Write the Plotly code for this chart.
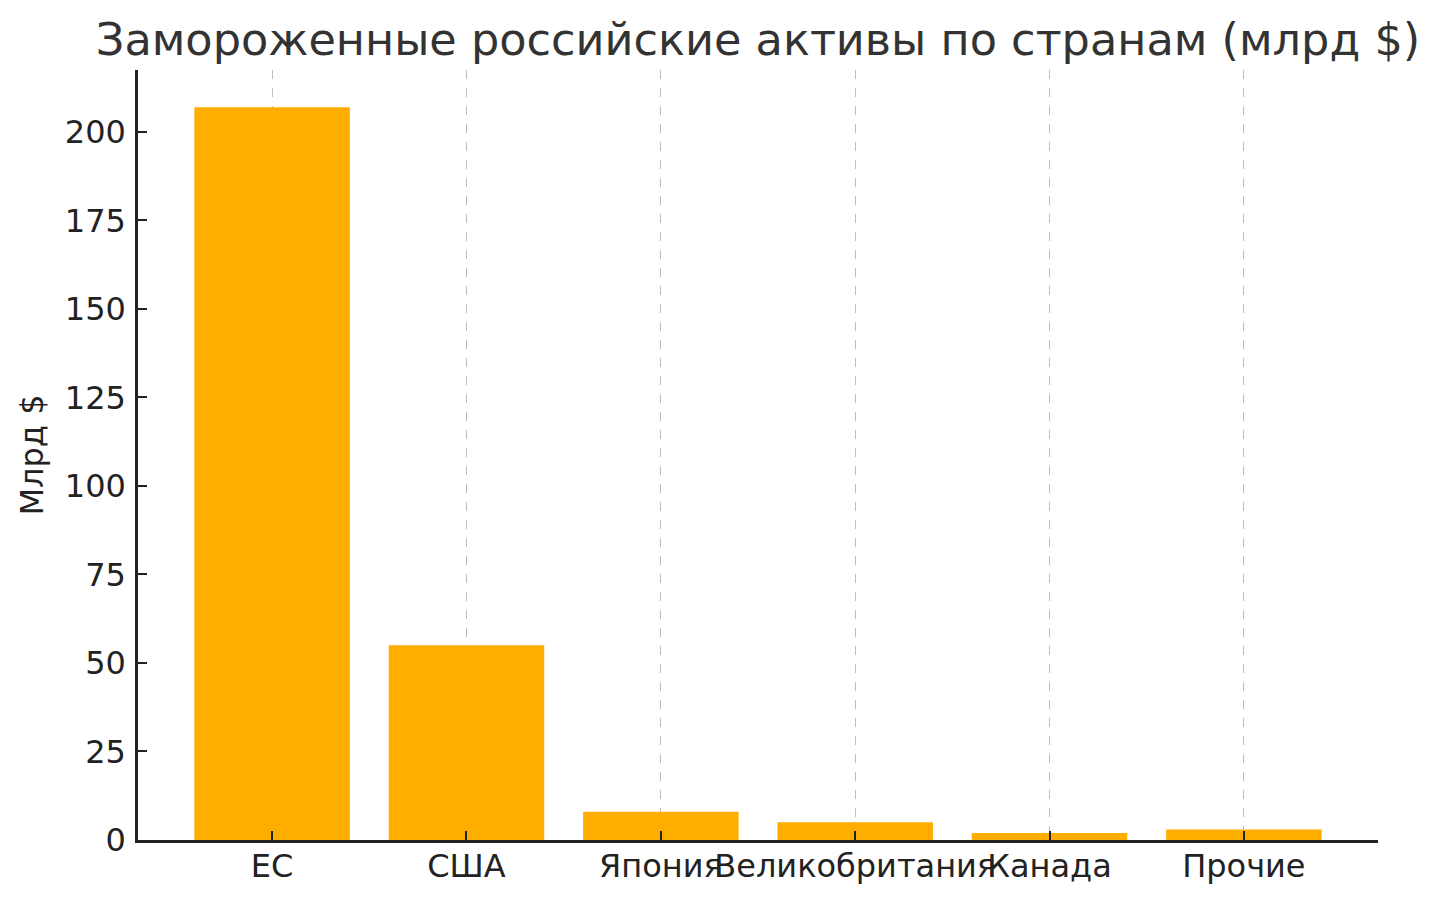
import plotly.graph_objects as go

categories = ["ЕС", "США", "Япония", "Великобритания", "Канада", "Прочие"]
values = [207, 55, 8, 5, 2, 3]
y_ticks = [0, 25, 50, 75, 100, 125, 150, 175, 200]

fig = go.Figure()
fig.add_trace(go.Bar(x=list(range(len(categories))), y=values, width=0.8,
                     marker=dict(color="#FFAE00", line=dict(width=0))))

font = "DejaVu Sans"
fig.update_layout(
    width=1437, height=904,
    margin=dict(l=130, r=67, t=62, b=72, autoexpand=False),
    paper_bgcolor="white", plot_bgcolor="white",
    showlegend=False,
    title=dict(text="Замороженные российские активы по странам (млрд $)",
               xref="paper", x=0.5, xanchor="center", yref="container", y=0.965, yanchor="middle",
               font=dict(family=font, size=44.6, color="#333333")),
    font=dict(family=font, size=32, color="#222222"),
)
fig.update_xaxes(
    range=[-0.69, 5.69], tickmode="array", tickvals=list(range(len(categories))),
    ticktext=categories, tickangle=0, automargin=False, ticklabelstandoff=-4,
    showgrid=True, gridcolor="#BFBFBF", griddash="dash", gridwidth=1.2,
    ticks="inside", ticklen=9, tickwidth=1.5, tickcolor="#222222",
    showline=True, linecolor="#222222", linewidth=2.5, zeroline=False,
    layer="above traces", tickfont=dict(size=32, family=font, color="#222222"),
)
fig.update_yaxes(
    range=[0, 217.5], tickmode="array", tickvals=y_ticks, showgrid=False, automargin=False,
    ticks="inside", ticklen=9, tickwidth=1.5, tickcolor="#222222",
    showline=True, linecolor="#222222", linewidth=2.5, zeroline=False,
    ticklabelstandoff=3,
    title=dict(text="Млрд $", font=dict(size=32, family=font, color="#222222"), standoff=12),
    tickfont=dict(size=32, family=font, color="#222222"),
)
fig.write_html("out.html")
